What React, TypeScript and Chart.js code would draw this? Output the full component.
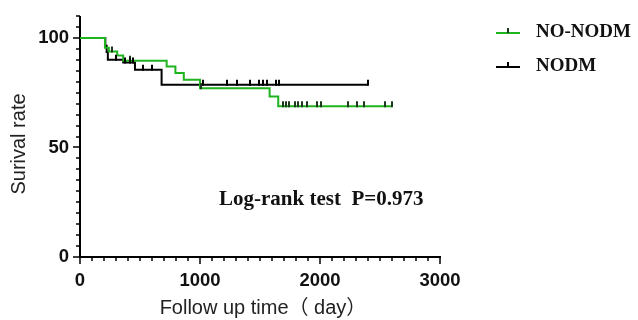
import React, { useEffect, useRef } from "react";
import { Chart, registerables } from "chart.js";
Chart.register(...registerables);

// ---- data ----
const seriesNames = ["NO-NODM", "NODM"];
const seriesColors = ["#1fb41f", "#000000"];
const censorColors = ["#1e3a1e", "#000000"];

// Kaplan-Meier steps (time in days, survival %)
const greenTimes = [0, 208, 240, 310, 360, 722, 795, 865, 1000, 1580, 1652, 2600];
const greenSurv = [100, 95.5, 93.8, 92.0, 89.6, 86.9, 84.0, 80.9, 77.0, 73.3, 68.8, 68.8];
const greenCensor = [265, 420, 1010, 1690, 1717, 1744, 1792, 1819, 1847, 1889, 1972, 2006, 2236, 2306, 2367, 2542, 2600];

const blackTimes = [0, 211, 222, 232, 360, 458, 680, 2400];
const blackSurv = [100, 96.4, 93.6, 90.0, 88.8, 85.5, 78.6, 78.6];
const blackCensor = [300, 375, 417, 440, 528, 597, 1028, 1229, 1306, 1417, 1494, 1528, 1556, 1633, 1661, 2400];

const xMajorTicks = [0, 1000, 2000, 3000];
const yMajorTicks = [0, 50, 100];
const xMinorStep = 100;
const yMinorStep = 5;
const X_MAX = 3000;
const Y_MAX = 110;

const xTitle = "Follow up time\uFF08 day\uFF09";
const yTitle = "Surival rate";
const annotation = "Log-rank test  P=0.973";

function survAt(times: number[], surv: number[], t: number) {
  let v = surv[0];
  for (let i = 0; i < times.length; i++) if (times[i] <= t) v = surv[i];
  return v;
}

const SANS = "'Liberation Sans', Arial, 'Noto Sans CJK SC', sans-serif";
const SERIF = "'Liberation Serif', 'Times New Roman', serif";

const overlay = {
  id: "overlay",
  beforeDatasetsDraw(chart: any) {
    const { ctx, scales } = chart;
    const x = scales.x, y = scales.y;
    const x0 = x.getPixelForValue(0), x1 = x.getPixelForValue(X_MAX);
    const y0 = y.getPixelForValue(0), y1 = y.getPixelForValue(Y_MAX);
    ctx.save();
    ctx.strokeStyle = "#000";
    ctx.lineWidth = 2;
    ctx.beginPath();
    ctx.moveTo(x0, y1); ctx.lineTo(x0, y0);
    ctx.moveTo(x0 - 1, y0); ctx.lineTo(x1 + 1, y0);
    ctx.stroke();
    ctx.lineWidth = 1.5;
    ctx.beginPath();
    for (let v = 0; v <= X_MAX + 0.1; v += xMinorStep) {
      const px = Math.round(x.getPixelForValue(v));
      const major = xMajorTicks.includes(v);
      ctx.moveTo(px, y0); ctx.lineTo(px, y0 + (major ? 7 : 4));
    }
    for (let v = 0; v <= Y_MAX + 0.1; v += yMinorStep) {
      const py = Math.round(y.getPixelForValue(v));
      const major = yMajorTicks.includes(v);
      ctx.moveTo(x0, py); ctx.lineTo(x0 - (major ? 7 : 4), py);
    }
    ctx.stroke();
    ctx.restore();
  },
  afterDatasetsDraw(chart: any) {
    const { ctx, scales } = chart;
    const x = scales.x, y = scales.y;
    const sets = [
      { t: greenTimes, s: greenSurv, c: greenCensor, col: censorColors[0] },
      { t: blackTimes, s: blackSurv, c: blackCensor, col: censorColors[1] },
    ];
    ctx.save();
    ctx.lineWidth = 2;
    for (const st of sets) {
      ctx.strokeStyle = st.col;
      ctx.beginPath();
      for (const t of st.c) {
        const px = Math.round(x.getPixelForValue(t));
        const py = y.getPixelForValue(survAt(st.t, st.s, t));
        ctx.moveTo(px, py - 5); ctx.lineTo(px, py + 1);
      }
      ctx.stroke();
    }
    // titles
    ctx.fillStyle = "#222";
    ctx.font = `20px ${SANS}`;
    ctx.textAlign = "center";
    ctx.textBaseline = "middle";
    ctx.fillText(xTitle, 263, 308);
    ctx.save();
    ctx.translate(19, 144);
    ctx.rotate(-Math.PI / 2);
    ctx.fillText(yTitle, 0, 0);
    ctx.restore();
    // annotation
    ctx.fillStyle = "#111";
    ctx.font = `bold 21px ${SERIF}`;
    ctx.textAlign = "left";
    ctx.fillText(annotation, 219, 200);
    // legend
    const legY = [32, 66];
    for (let i = 0; i < 2; i++) {
      ctx.strokeStyle = seriesColors[i];
      ctx.lineWidth = 2;
      ctx.beginPath();
      ctx.moveTo(496, legY[i] + 1); ctx.lineTo(520, legY[i] + 1);
      ctx.stroke();
      ctx.strokeStyle = censorColors[i];
      ctx.beginPath();
      ctx.moveTo(508, legY[i] - 4); ctx.lineTo(508, legY[i] + 1);
      ctx.stroke();
      ctx.fillStyle = "#111";
      ctx.font = `bold 19px ${SERIF}`;
      ctx.textAlign = "left";
      ctx.fillText(seriesNames[i], 536, legY[i]);
    }
    ctx.restore();
  },
};

export default function App() {
  const ref = useRef<HTMLCanvasElement | null>(null);
  useEffect(() => {
    document.body.style.margin = "0";
    const canvas = ref.current!;
    const chart = new Chart(canvas, {
      type: "line",
      data: {
        datasets: [
          {
            label: seriesNames[0],
            data: greenTimes.map((t, i) => ({ x: t, y: greenSurv[i] })),
            borderColor: seriesColors[0],
            borderWidth: 2,
            stepped: "before",
            pointRadius: 0,
            fill: false,
          },
          {
            label: seriesNames[1],
            data: blackTimes.map((t, i) => ({ x: t, y: blackSurv[i] })),
            borderColor: seriesColors[1],
            borderWidth: 2,
            stepped: "before",
            pointRadius: 0,
            fill: false,
          },
        ],
      },
      options: {
        responsive: false,
        animation: false,
        devicePixelRatio: 1,
        layout: { padding: { left: 0, top: 16, right: 198, bottom: 0 } },
        plugins: { legend: { display: false }, tooltip: { enabled: false } },
        scales: {
          x: {
            type: "linear",
            min: 0,
            max: X_MAX,
            grid: { display: false, drawTicks: false },
            border: { display: false },
            ticks: {
              stepSize: 1000,
              padding: 13,
              color: "#111",
              font: { family: SANS, size: 18.5, weight: "bold" },
              maxRotation: 0,
              callback: (v: any) => String(v),
            },
            afterFit: (s: any) => { s.height = 63; s.paddingLeft = 0; s.paddingRight = 0; },
          },
          y: {
            type: "linear",
            min: 0,
            max: Y_MAX,
            grid: { display: false, drawTicks: false },
            border: { display: false },
            ticks: {
              stepSize: 50,
              includeBounds: false,
              padding: 11,
              color: "#111",
              font: { family: SANS, size: 18.5, weight: "bold" },
              callback: (v: any) => String(v),
            },
            afterFit: (s: any) => { s.width = 80; s.paddingTop = 0; s.paddingBottom = 0; },
          },
        },
      },
      plugins: [overlay],
    });
    return () => chart.destroy();
  }, []);
  return (
    <div style={{ position: "absolute", left: 0, top: 0, width: 638, height: 320, background: "#fff" }}>
      <canvas ref={ref} width={638} height={320} />
    </div>
  );
}
